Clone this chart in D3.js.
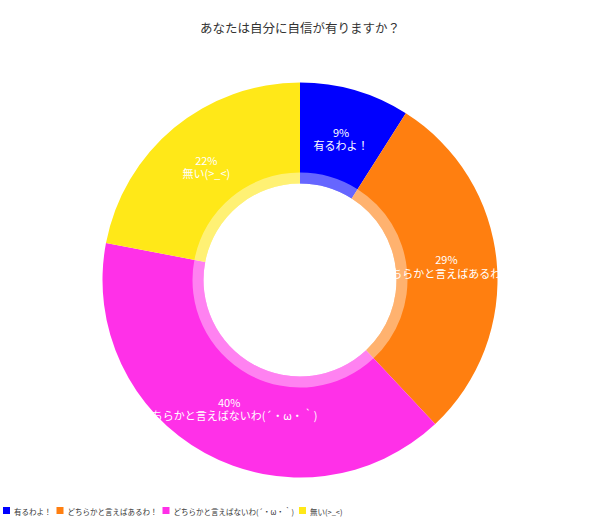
<!DOCTYPE html>
<html>
<head>
<meta charset="utf-8">
<script src="https://cdn.jsdelivr.net/npm/d3@7"></script>
<style>
  body { margin: 0; background: #fff; }
  text { font-family: "Noto Sans CJK JP", "Noto Sans", sans-serif; }
</style>
</head>
<body>
<script>
const width = 600,
    height = 519

const categories = ["有るわよ！", "どちらかと言えばあるわ！", "どちらかと言えばないわ(´・ω・｀)", "無い(>_<)"]
const values = [9, 29, 40, 22]
const colors = ["#0000ff", "#ff7f10", "#ff30e8", "#ffe818"]

const cx = 300, cy = 280
const outerR = 197.5, innerR = 96.5, ringR = 107.5

const svg = d3.select("body")
    .append("svg")
    .attr("width", width)
    .attr("height", height)

svg.append("text")
    .attr("x", width / 2)
    .attr("y", 27)
    .attr("text-anchor", "middle")
    .attr("dominant-baseline", "central")
    .attr("font-size", "12.5px")
    .attr("fill", "#333")
    .text("あなたは自分に自信が有りますか？")

const color = d3.scaleOrdinal()
    .domain(categories)
    .range(colors)

const pie = d3.pie()
    .sort(null)
    .value((d) => d.value)

const data_ready = pie(categories.map((c, i) => ({ name: c, value: values[i] })))

const g = svg.append("g")
    .attr("transform", `translate(${cx}, ${cy})`)

const arc = d3.arc()
    .innerRadius(innerR)
    .outerRadius(outerR)

g.selectAll("path.slice")
    .data(data_ready)
    .join("path")
    .attr("class", "slice")
    .attr("d", arc)
    .attr("fill", (d) => color(d.data.name))

// light inner band
g.selectAll("path.band")
    .data(data_ready)
    .join("path")
    .attr("class", "band")
    .attr("d", d3.arc().innerRadius(innerR).outerRadius(ringR))
    .attr("fill", "#fff")
    .attr("fill-opacity", 0.4)

const total = d3.sum(values)
const labelArc = d3.arc().innerRadius(innerR + 1).outerRadius(outerR - 1)

const labels = g.selectAll("g.label")
    .data(data_ready)
    .join("g")
    .attr("class", "label")
    .attr("transform", (d) => `translate(${labelArc.centroid(d)})`)

labels.append("text")
    .attr("y", -7)
    .attr("text-anchor", "middle")
    .attr("dominant-baseline", "central")
    .attr("font-size", "11px")
    .attr("fill", "#fff")
    .text((d) => Math.round(d.data.value / total * 100) + "%")

labels.append("text")
    .attr("y", 6.5)
    .attr("text-anchor", "middle")
    .attr("dominant-baseline", "central")
    .attr("font-size", "11px")
    .attr("fill", "#fff")
    .text((d) => d.data.name)

// legend
const legend = svg.append("g")
let lx = 3
categories.forEach((c, i) => {
    legend.append("rect")
        .attr("x", lx)
        .attr("y", 507)
        .attr("width", 7)
        .attr("height", 7)
        .attr("fill", color(c))
    const t = legend.append("text")
        .attr("x", lx + 11)
        .attr("y", 511)
        .attr("dominant-baseline", "central")
        .attr("font-size", "7.5px")
        .attr("fill", "#333")
        .text(c)
    lx += 11 + t.node().getComputedTextLength() + 5
})
</script>
</body>
</html>
